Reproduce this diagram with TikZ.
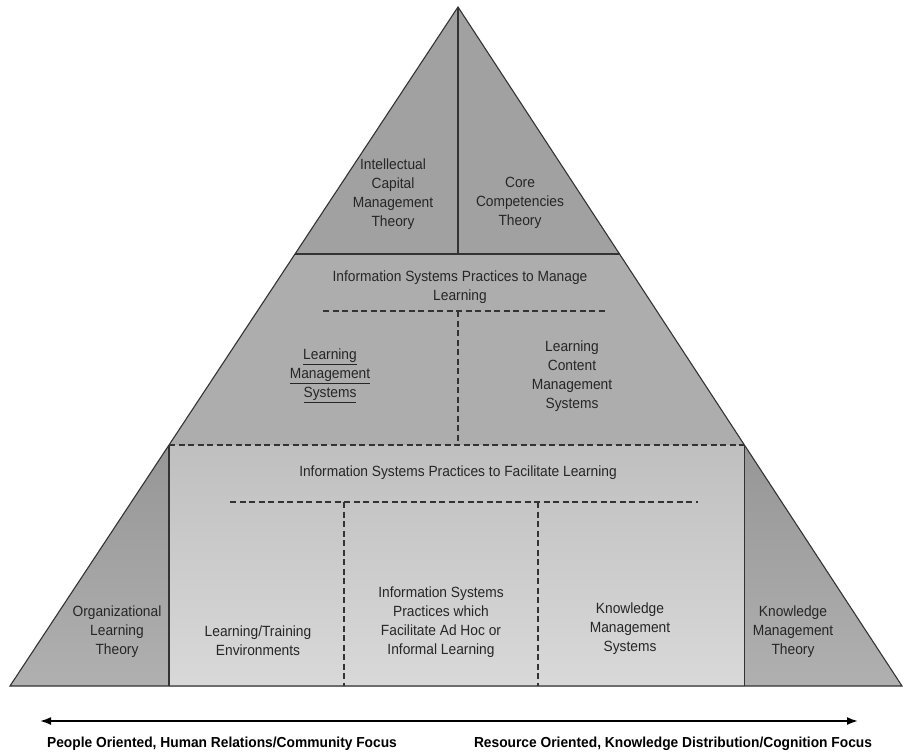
\documentclass[tikz,border=0pt]{standalone}
\usepackage{fontspec}
\newfontfamily\dfont{Liberation Sans}[FakeStretch=0.93]
\newfontfamily\bfont{Liberation Sans}[FakeStretch=0.95]
\usetikzlibrary{arrows.meta,calc}
\definecolor{topc}{gray}{0.63}
\definecolor{midc}{gray}{0.68}
\definecolor{bottop}{gray}{0.75}
\definecolor{botbot}{gray}{0.85}
\definecolor{sidetop}{gray}{0.59}
\definecolor{sidebot}{gray}{0.69}
\definecolor{linec}{gray}{0.2}
\definecolor{textc}{gray}{0.15}
\begin{document}
\begin{tikzpicture}[x=1pt,y=-1pt,
  solidline/.style={draw=linec,line width=1.1pt},
  dashline/.style={draw=linec,line width=1.2pt,dash pattern=on 6pt off 3.5pt},
  lbl/.style={align=center,inner sep=0pt,text=textc,font=\dfont\fontsize{14.8}{19}\selectfont},
  axislbl/.style={inner sep=0pt,text=black,font=\bfont\bfseries\fontsize{14.5}{17}\selectfont}]
\useasboundingbox (0,0) rectangle (908,752);
% frame points
\coordinate (A) at (458,7);
\coordinate (BL) at (10,686);
\coordinate (BR) at (902,686);
\coordinate (L1) at ($(A)!0.36377!(BL)$);
\coordinate (R1) at ($(A)!0.36377!(BR)$);
\coordinate (L2) at ($(A)!0.64507!(BL)$);
\coordinate (R2) at ($(A)!0.64507!(BR)$);
\coordinate (L2b) at (L2 |- BL);
\coordinate (R2b) at (R2 |- BR);
\coordinate (T1) at (A |- L1);
% inner dashed points
\coordinate (mdl) at (323,311);
\coordinate (mdr) at (607,311);
\coordinate (mdt) at (458,311);
\coordinate (mdb) at (mdt |- L2);
\coordinate (bdl) at (230,502);
\coordinate (bdr) at (698,502);
\coordinate (bv1t) at (344,502);
\coordinate (bv1b) at (bv1t |- BL);
\coordinate (bv2t) at (538,502);
\coordinate (bv2b) at (bv2t |- BL);
% fills
\fill[topc] (A) -- (L1) -- (R1) -- cycle;
\fill[midc] (L1) -- (R1) -- (R2) -- (L2) -- cycle;
\shade[top color=bottop,bottom color=botbot] (L2) rectangle (R2b);
\shade[top color=sidetop,bottom color=sidebot] (L2) -- (L2b) -- (BL) -- cycle;
\shade[top color=sidetop,bottom color=sidebot] (R2) -- (BR) -- (R2b) -- cycle;
% lines
\draw[dashline] (L2) -- (R2);
\draw[dashline] (mdl) -- (mdr);
\draw[dashline] (mdt) -- (mdb);
\draw[dashline] (bdl) -- (bdr);
\draw[dashline] (bv1t) -- (bv1b);
\draw[dashline] (bv2t) -- (bv2b);
\draw[solidline] (L1) -- (R1);
\draw[solidline] (A) -- (T1);
\draw[solidline] (L2) -- (L2b);
\draw[solidline] (R2) -- (R2b);
\draw[solidline,line join=miter] (A) -- (BL) -- (BR) -- cycle;
% labels
\node[lbl] (icm) at (393,194) {Intellectual\\Capital\\Management\\Theory};
\node[lbl] (cct) at (520,203) {Core\\Competencies\\Theory};
\node[lbl] (ispm) at (460,287) {Information Systems Practices to Manage\\Learning};
\node[lbl] (lms) at (330,376) {\underline{Learning}\\\underline{Management}\\\underline{Systems}};
\node[lbl] (lcms) at (572,376) {Learning\\Content\\Management\\Systems};
\node[lbl] (ispf) at (458,473) {Information Systems Practices to Facilitate Learning};
\node[lbl] (olt) at (117,632) {Organizational\\Learning\\Theory};
\node[lbl] (lte) at (258,641) {Learning/Training\\Environments};
\node[lbl] (isp) at (441,622) {Information Systems\\Practices which\\Facilitate Ad Hoc or\\Informal Learning};
\node[lbl] (kms) at (630,629) {Knowledge\\Management\\Systems};
\node[lbl] (kmt) at (793,632) {Knowledge\\Management\\Theory};
% axis
\coordinate (axl) at (40,721);
\coordinate (axr) at (858,721);
\draw[line width=1.8pt,{Latex[length=11pt,width=8pt]}-{Latex[length=11pt,width=8pt]}] (axl) -- (axr);
\node[axislbl] (pl) at (222,744) {People Oriented, Human Relations/Community Focus};
\node[axislbl] (rl) at (673,744) {Resource Oriented, Knowledge Distribution/Cognition Focus};
\end{tikzpicture}
\end{document}
